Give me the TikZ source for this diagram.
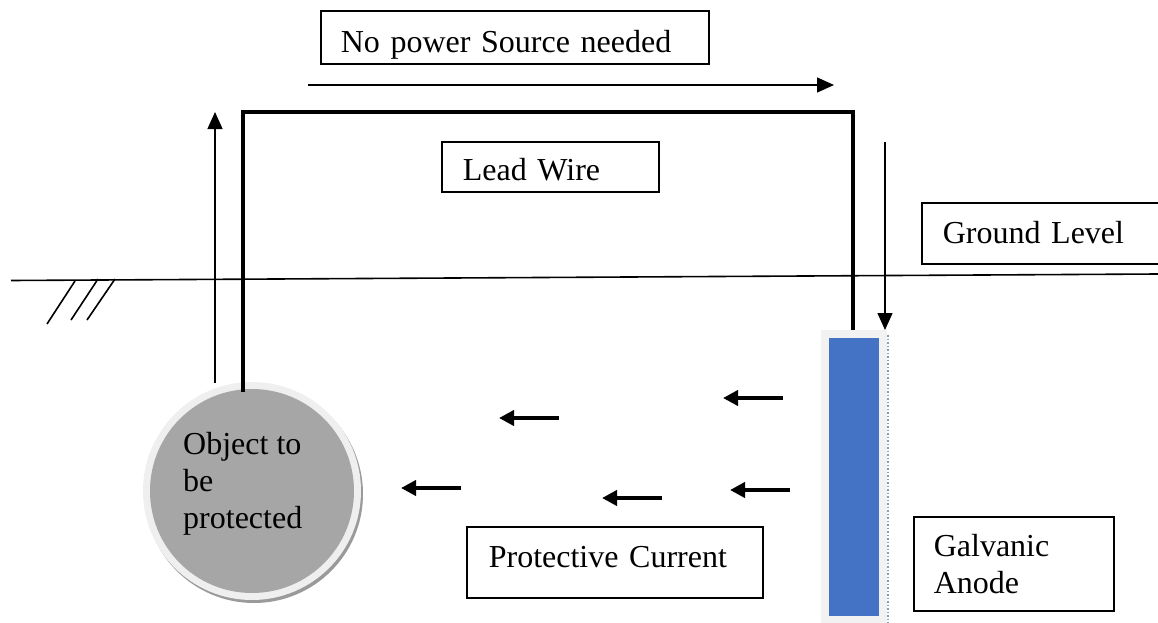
\documentclass[tikz,border=0pt]{standalone}
\usepackage{fontspec}
\setmainfont{Liberation Serif}
\usetikzlibrary{arrows.meta}
\definecolor{anodeblue}{HTML}{4472C4}
\definecolor{objgray}{HTML}{A6A6A6}
\definecolor{ringgray}{HTML}{EFEFEF}
\definecolor{anodebg}{HTML}{F2F2F2}
\definecolor{shadowgray}{HTML}{9A9A9A}
\definecolor{edgeblue}{HTML}{8A9AB8}
\tikzset{
  lbl/.style={draw=black, line width=1.6pt, anchor=north west, align=left, inner ysep=0pt, font=\fontsize{32}{37}\selectfont},
  wire/.style={line width=4pt, line join=miter},
  thinarrow/.style={line width=1.3pt, -{Triangle[length=17pt,width=15pt]}},
  currarrow/.style={line width=4pt, -{Triangle[length=15pt,width=15pt]}},
  groundline/.style={line width=1.6pt},
}
\begin{document}
\begin{tikzpicture}[x=1pt,y=-1pt]
\useasboundingbox[fill=white] (0,0) rectangle (1158,623);

% ground line and hatching
\coordinate (gl) at (11,280.5);
\coordinate (gr) at (1158,274);
\draw[groundline] (gl) -- (gr);
\coordinate (h1a) at (47,324); \coordinate (h1b) at (75,281);
\coordinate (h2a) at (71,320); \coordinate (h2b) at (98,279);
\coordinate (h3a) at (87,320); \coordinate (h3b) at (115,279);
\draw[groundline] (h1a) -- (h1b) (h2a) -- (h2b) (h3a) -- (h3b);

% object to be protected
\fill[shadowgray] (254,494) circle[radius=109pt];
\node[circle, fill=ringgray, minimum size=218pt, inner sep=0pt] (obj) at (252,491) {};
\fill[objgray] (obj.center) circle[radius=102pt];
\node[anchor=west, align=left, inner sep=0pt, font=\fontsize{32}{37}\selectfont] (objtext) at (183,484) {Object to\\be\\protected};

% galvanic anode
\node[fill=anodebg, minimum width=66pt, minimum height=293pt, inner sep=0pt, anchor=north west] (anode) at (821,330) {};
\fill[anodeblue] (829,338) rectangle (879,616);
\draw[edgeblue, dotted, line width=1.5pt] (888,335) -- (888,623);

% lead wire
\coordinate (objtop) at (243,392);
\coordinate (w1) at (243,112);
\coordinate (w2) at (853,112);
\draw[wire] (objtop) -- (w1) -- (w2) -- (anode.north -| w2);

% direction arrows
\coordinate (ua1) at (215,383); \coordinate (ua2) at (215,112);
\draw[thinarrow] (ua1) -- (ua2);
\coordinate (ta1) at (308,85); \coordinate (ta2) at (834,85);
\draw[thinarrow] (ta1) -- (ta2);
\coordinate (da1) at (885,142);
\draw[thinarrow] (da1) -- (da1 |- anode.north);

% protective current arrows
\coordinate (c1a) at (783,398); \coordinate (c1b) at (723,398);
\coordinate (c2a) at (559,418); \coordinate (c2b) at (499,418);
\coordinate (c3a) at (461,488); \coordinate (c3b) at (401,488);
\coordinate (c4a) at (662,498); \coordinate (c4b) at (602,498);
\coordinate (c5a) at (790,490); \coordinate (c5b) at (730,490);
\draw[currarrow] (c1a) -- (c1b);
\draw[currarrow] (c2a) -- (c2b);
\draw[currarrow] (c3a) -- (c3b);
\draw[currarrow] (c4a) -- (c4b);
\draw[currarrow] (c5a) -- (c5b);

% labels
\node[lbl, inner xsep=20pt, text width=348pt, text height=42pt, text depth=11pt] (nopower) at (320,10) {No power Source needed};
\node[lbl, inner xsep=21pt, text width=175pt, text height=39pt, text depth=11pt] (lead) at (441,141) {Lead Wire};
\node[lbl, inner xsep=21pt, text width=203pt, text height=41pt, text depth=20pt] (ground) at (921,202) {Ground Level};
\node[lbl, inner xsep=22pt, text width=252pt, text height=41pt, text depth=30pt] (protective) at (466,526) {Protective Current};
\node[lbl, inner xsep=20pt, text width=160pt, minimum height=94pt] (galvanic) at (913,516) {Galvanic\\Anode};
\end{tikzpicture}
\end{document}
